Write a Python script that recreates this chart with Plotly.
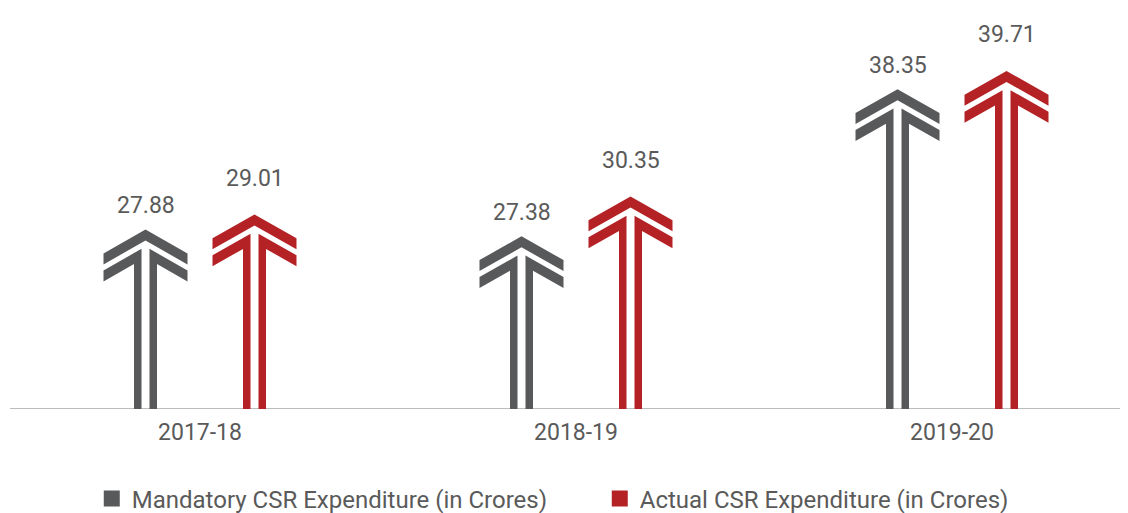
import plotly.graph_objects as go

# ---- data ----
years = ["2017-18", "2018-19", "2019-20"]
mandatory = [27.88, 27.38, 38.35]
actual = [29.01, 30.35, 39.71]
series_names = ["Mandatory CSR Expenditure (in Crores)", "Actual CSR Expenditure (in Crores)"]

# ---- style ----
GRAY = "#58595b"
RED = "#b52226"
TEXT = "#5a5a5a"
FONT = "Roboto"

# page body has an 8px margin, so the figure is 8px smaller than the window
W, H = 1120, 505
M_L, M_R, M_T, M_B = 2, 1, 0, 104
X_RANGE = [-0.5053, 2.4654]
Y_SCALE = 13.41                       # px per unit
Y_MIN = 14.5
Y_RANGE = [Y_MIN, Y_MIN + (H - M_T - M_B) / Y_SCALE]
px_x = (X_RANGE[1] - X_RANGE[0]) / (W - M_L - M_R)   # data units per px (x)
px_y = 1.0 / Y_SCALE                                  # data units per px (y)

OFFSET = 54.5 * px_x   # arrow offset from group centre


def arrow_paths(cx, top):
    """Polygons (in data units) for a double-chevron arrow whose tip is at `top`."""
    g, s, Wd, k, T, D = 4.0, 7.5, 42.0, 0.567, 11.0, 17.0
    X = lambda dx: cx + dx * px_x
    Y = lambda dy: top - dy * px_y
    base = Y_RANGE[0]
    xs, ys = [], []
    # outer chevron
    pts = [(0, 0), (-Wd, k * Wd), (-Wd, k * Wd + T), (0, T), (Wd, k * Wd + T), (Wd, k * Wd)]
    for dx, dy in pts + [pts[0]]:
        xs.append(X(dx)); ys.append(Y(dy))
    xs.append(None); ys.append(None)
    # two halves: stem + inner chevron arm
    for sgn in (-1, 1):
        poly = [
            (sgn * g, None),
            (sgn * g, D + k * g),
            (sgn * Wd, D + k * Wd),
            (sgn * Wd, D + k * Wd + T),
            (sgn * (g + s), D + k * (g + s) + T),
            (sgn * (g + s), None),
        ]
        for dx, dy in poly + [poly[0]]:
            xs.append(X(dx)); ys.append(base if dy is None else Y(dy))
        xs.append(None); ys.append(None)
    return xs, ys


fig = go.Figure()

for vals, color, off, name, lab_shift in [(mandatory, GRAY, -OFFSET, series_names[0], 24),
                                           (actual, RED, OFFSET, series_names[1], 36)]:
    ax, ay = [], []
    for i, v in enumerate(vals):
        xs, ys = arrow_paths(i + off, v)
        ax += xs; ay += ys
    fig.add_trace(go.Scatter(x=ax, y=ay, mode="lines", fill="toself", fillcolor=color,
                             line=dict(width=0, color=color), hoverinfo="skip",
                             showlegend=False))
    # legend entry
    fig.add_trace(go.Scatter(x=[None], y=[None], mode="markers", name=name,
                             marker=dict(symbol="square", size=16, color=color)))
    # value labels
    for i, v in enumerate(vals):
        fig.add_annotation(x=i + off, y=v, text=f"{v:.2f}", showarrow=False,
                           yshift=lab_shift, yanchor="middle", xanchor="center",
                           font=dict(family=FONT, size=23, color=TEXT))

plot_h = H - M_T - M_B
fig.update_layout(
    width=W, height=H,
    margin=dict(l=M_L, r=M_R, t=M_T, b=M_B, autoexpand=False),
    paper_bgcolor="white", plot_bgcolor="white",
    font=dict(family=FONT, size=23, color=TEXT),
    xaxis=dict(range=X_RANGE, tickvals=list(range(len(years))), ticktext=years,
               showgrid=False, zeroline=False, showline=False, ticks="",
               ticklabelstandoff=7,
               tickfont=dict(family=FONT, size=23, color=TEXT), fixedrange=True),
    yaxis=dict(range=Y_RANGE, showgrid=False, zeroline=False, showticklabels=False,
               showline=False, ticks="", fixedrange=True),
    legend=dict(orientation="h", x=0.0732, xanchor="left", y=-90 / plot_h, yanchor="middle",
                font=dict(family=FONT, size=24, color=TEXT),
                entrywidth=463, entrywidthmode="pixels", itemsizing="trace"),
    shapes=[dict(type="line", xref="paper", yref="y", x0=0, x1=1,
                 y0=Y_RANGE[0], y1=Y_RANGE[0], line=dict(color="#a6a6a6", width=1.5),
                 layer="below")],
    showlegend=True,
)

fig.write_html("out.html")
